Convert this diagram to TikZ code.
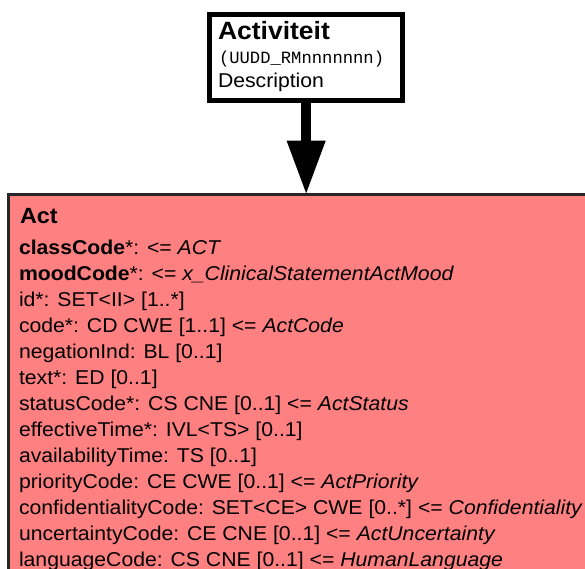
\documentclass[tikz,border=0pt]{standalone}
\usepackage{fontspec}
\setmainfont{Liberation Sans}[FakeStretch=1.06]
\setmonofont{Liberation Mono}
\usetikzlibrary{arrows.meta}
\definecolor{rougeact}{RGB}{255,128,128}

\begin{document}
\begin{tikzpicture}[x=1pt,y=1pt]
  \tikzstyle{classe}=[draw, rectangle, inner sep=0, outer sep=0, anchor=north west];
  \tikzstyle{texte}=[anchor=base west, inner sep=0, outer sep=0];
  \tikzstyle{attribut}=[texte, font=\fontsize{20}{24}\selectfont];

  \useasboundingbox (0,0) rectangle (585,-568);
  \clip (0,0) rectangle (585,-568);

  \node[classe, line width=5pt, fill=white, minimum width=192.7pt, minimum height=86.3pt] (activiteit) at (209.8,-14.2) {};
  \node[classe, line width=2.5pt, draw=black!85, fill=rougeact, minimum width=620pt, minimum height=420pt] (act) at (8.5,-194.7) {};

  \draw[line width=10pt, -{Triangle[width=36pt,length=54pt]}] (activiteit.south) -- (activiteit.south |- act.north);

  \node[texte, font=\fontsize{25}{28}\selectfont\bfseries] (titre) at (218,-39) {Activiteit};
  \node[texte, font=\fontsize{17.2}{20}\selectfont\ttfamily] (code) at (219,-63) {(UUDD\_RMnnnnnnn)};
  \node[texte, font=\fontsize{20}{24}\selectfont] (descr) at (218,-87) {Description};

  \node[texte, font=\fontsize{22}{26}\selectfont\bfseries] (nomact) at (20,-223) {Act};
  \foreach \ligne [count=\i from 0] in {%
    {\textbf{classCode}*: <= \textit{ACT}},
    {\textbf{moodCode}*: <= \textit{x\_ClinicalStatementActMood}},
    {id*: SET<II> [1..*]},
    {code*: CD CWE [1..1] <= \textit{ActCode}},
    {negationInd: BL [0..1]},
    {text*: ED [0..1]},
    {statusCode*: CS CNE [0..1] <= \textit{ActStatus}},
    {effectiveTime*: IVL<TS> [0..1]},
    {availabilityTime: TS [0..1]},
    {priorityCode: CE CWE [0..1] <= \textit{ActPriority}},
    {confidentialityCode: SET<CE> CWE [0..*] <= \textit{Confidentiality}},
    {uncertaintyCode: CE CNE [0..1] <= \textit{ActUncertainty}},
    {languageCode: CS CNE [0..1] <= \textit{HumanLanguage}}}
    \node[attribut] (attr\i) at (19,-254-26*\i) {\ligne};
\end{tikzpicture}
\end{document}
